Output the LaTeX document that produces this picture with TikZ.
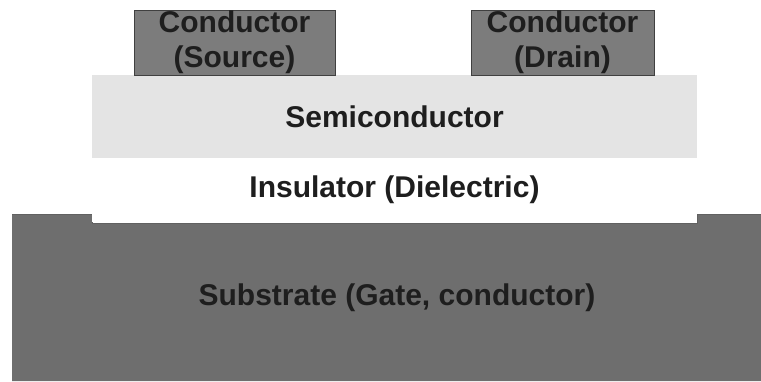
\documentclass[tikz,border=0pt]{standalone}
\usepackage{fontspec}
\setsansfont{Liberation Sans}
\definecolor{metal}{HTML}{7C7C7C}
\definecolor{semi}{HTML}{E4E4E4}
\definecolor{gate}{HTML}{6E6E6E}
\definecolor{ink}{HTML}{1E1E1E}
\tikzset{layer/.style={inner sep=0pt,outer sep=0pt,anchor=north west,align=center,font=\sffamily\bfseries\fontsize{30}{35}\selectfont,text=ink},contact/.style={layer,fill=metal,draw=ink!85,line width=0.8pt,minimum height=65pt},label/.style={font=\sffamily\bfseries\fontsize{30}{35}\selectfont,text=ink,inner sep=0pt}}
\begin{document}
\begin{tikzpicture}[x=1pt,y=-1pt]
\useasboundingbox (0,0) rectangle (761,381);
\fill[gate] (12,381) -- (12,214) -- (92,214) -- (92,223) -- (697,223) -- (697,214) -- (761,214) -- (761,381) -- cycle;
\draw[ink!70,line width=1pt] (12,214) -- (92,214) -- (92,223) -- (697,223) -- (697,214) -- (761,214);
\node[label] (substrate) at (397,298) {Substrate (Gate, conductor)};
\node[layer,fill=white,minimum width=605pt,minimum height=64pt] (insulator) at (92,158) {Insulator (Dielectric)};
\node[layer,fill=semi,minimum width=605pt,minimum height=83pt] (semiconductor) at (92,75) {Semiconductor};
\node[contact,minimum width=201pt] (source) at (134,10) {Conductor\\(Source)};
\node[contact,minimum width=183pt] (drain) at (471,10) {Conductor\\(Drain)};
\end{tikzpicture}
\end{document}
